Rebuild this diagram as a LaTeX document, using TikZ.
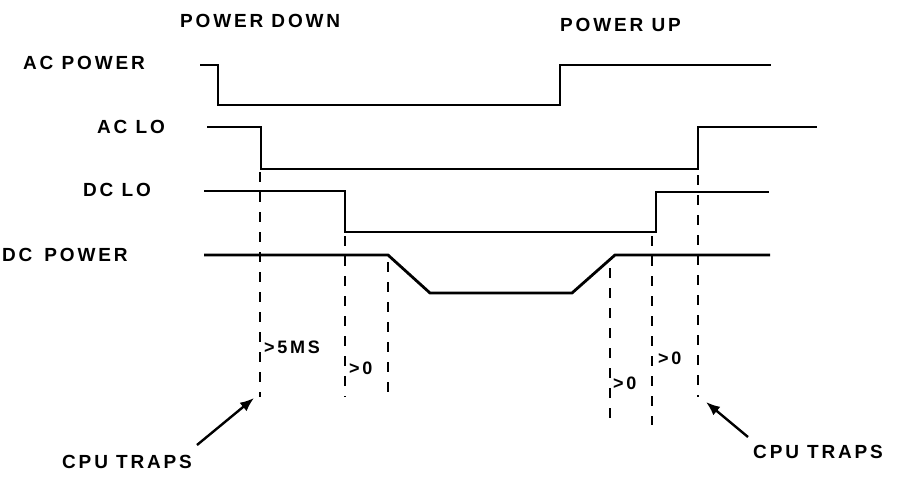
\documentclass[tikz,border=0pt]{standalone}
\usepackage{fontspec}
\setmainfont{Liberation Sans}
\newfontfamily\hand[LetterSpace=15]{Liberation Sans}
\usetikzlibrary{arrows.meta}
\tikzset{
  sig/.style={line width=2.8pt, line join=miter},
  guide/.style={line width=2.4pt, dash pattern=on 10pt off 10pt},
  lbl/.style={inner sep=0pt, anchor=west, font=\hand\bfseries\fontsize{19}{19}\selectfont},
  small/.style={inner sep=0pt, anchor=west, font=\hand\bfseries\fontsize{18}{18}\selectfont},
  pointer/.style={line width=2.4pt, -{Latex[length=14pt,width=11pt]}}
}
\begin{document}
\begin{tikzpicture}[x=1pt,y=-1pt]
\useasboundingbox (0,0) rectangle (900,477);
% titles
\node[lbl] (tdown) at (180,21) {POWER DOWN};
\node[lbl] (tup) at (560,25) {POWER UP};
% signal names
\node[lbl] (nacp) at (23,63) {AC POWER};
\node[lbl] (naclo) at (97,127) {AC LO};
\node[lbl] (ndclo) at (83,190) {DC LO};
\node[lbl] (ndcp) at (2,255) {DC\hspace{12pt}POWER};
% AC POWER
\draw[sig] (200,65) -- (218,65) -- (218,105) -- (560,105) -- (560,65) -- (771,65);
% AC LO
\draw[sig] (207,127) -- (261,127) -- (261,169) -- (698,169) -- (698,127) -- (817,127);
% DC LO
\draw[sig] (204,191) -- (345,191) -- (345,232) -- (656,232) -- (656,192) -- (769,192);
% DC POWER
\draw[sig] (204,255) -- (388,255) -- (430,293) -- (572,293) -- (615,255) -- (770,255);
% guide lines
\coordinate (g1t) at (260,172); \coordinate (g1b) at (260,397);
\coordinate (g2t) at (345,236); \coordinate (g2b) at (345,397);
\coordinate (g3t) at (388,262); \coordinate (g3b) at (388,402);
\coordinate (g4t) at (610,268); \coordinate (g4b) at (610,422);
\coordinate (g5t) at (652,236); \coordinate (g5b) at (652,425);
\coordinate (g6t) at (698,175); \coordinate (g6b) at (698,397);
\draw[guide] (g1t) -- (g1b);
\draw[guide] (g2t) -- (g2b);
\draw[guide] (g3t) -- (g3b);
\draw[guide] (g4t) -- (g4b);
\draw[guide] (g5t) -- (g5b);
\draw[guide] (g6t) -- (g6b);
% interval labels
\node[small] (d1) at (264,347) {>5MS};
\node[small] (d2) at (349,368) {>0};
\node[small] (d3) at (613,383) {>0};
\node[small] (d4) at (658,358) {>0};
% cpu traps
\node[lbl] (cl) at (62,462) {CPU TRAPS};
\node[lbl] (cr) at (753,452) {CPU TRAPS};
\coordinate (al) at (197,445);
\coordinate (ar) at (748,437);
\draw[pointer] (al) -- (254,398);
\draw[pointer] (ar) -- (706,402);
\end{tikzpicture}
\end{document}
